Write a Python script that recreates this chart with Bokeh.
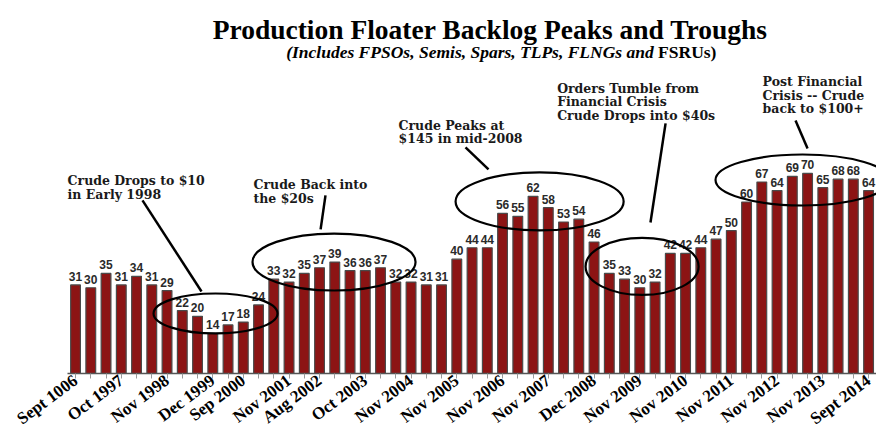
import math
from bokeh.plotting import figure
from bokeh.models import Label, FixedTicker, Range1d, ColumnDataSource
from bokeh.core.properties import value
from bokeh.embed import file_html
from bokeh.resources import INLINE

# Production floater backlog (units), one value per survey date
backlog = [31, 30, 35, 31, 34, 31, 29, 22, 20, 14, 17, 18, 24,
           33, 32, 35, 37, 39, 36, 36, 37, 32, 32, 31, 31,
           40, 44, 44, 56, 55, 62, 58, 53, 54, 46,
           35, 33, 30, 32, 42, 42, 44, 47, 50,
           60, 67, 64, 69, 70, 65, 68, 68, 64]

# Axis tick labels (blank where a survey date is not labelled)
date_labels = ["Sept 1006", "", "", "Oct 1997", "", "", "Nov 1998", "", "",
               "Dec 1999", "", "Sep 2000", "", "", "Nov 2001", "", "Aug 2002",
               "", "", "Oct 2003", "", "", "Nov 2004", "", "", "Nov 2005", "", "",
               "Nov 2006", "", "", "Nov 2007", "", "", "Dec 2008", "", "",
               "Nov 2009", "", "", "Nov 2010", "", "", "Nov 2011", "", "",
               "Nov 2012", "", "", "Nov 2013", "", "", "Sept 2014"]

idx = list(range(len(backlog)))
src = ColumnDataSource(dict(x=idx, backlog=backlog,
                            lbl=[str(v) for v in backlog]))

p = figure(width=876, height=439, output_backend="svg", toolbar_location=None,
           x_range=Range1d(-4.92, 52.52), y_range=Range1d(0, 130.5),
           y_axis_location=None, min_border=0, min_border_bottom=66,
           background_fill_color="white", border_fill_color="white")
p.outline_line_color = None
p.xgrid.grid_line_color = None
p.ygrid.grid_line_color = None

p.vbar(x="x", top="backlog", width=0.64, source=src,
       fill_color="#8c1414", line_color="#4a4a4a", line_width=1.2)

p.text(x="x", y="backlog", text="lbl", source=src, text_align="center",
       text_baseline="bottom", y_offset=-4, text_font=value("Liberation Sans"),
       text_font_style="bold", text_font_size="12px", text_color="#2a2a2a")

ax = p.xaxis[0]
ax.ticker = FixedTicker(ticks=idx)
ax.major_label_overrides = {i: t for i, t in zip(idx, date_labels)}
ax.bounds = (-0.5, 52.5)
ax.major_label_orientation = 0.64
ax.major_label_text_font = "Liberation Serif"
ax.major_label_text_font_style = "bold"
ax.major_label_text_font_size = "17px"
ax.major_label_text_color = "black"
ax.major_label_standoff = 0
ax.axis_line_color = "#555555"
ax.axis_line_width = 1.5
ax.major_tick_line_color = "#999999"
ax.major_tick_out = 5
ax.major_tick_in = 0
ax.minor_tick_line_color = None

# Circled groups of peaks and troughs
rings = dict(x=[9.18, 16.95, 30.43, 37.15, 47.67],
             y=[21.0, 39.0, 60.2, 37.45, 67.7],
             w=[8.13, 10.69, 11.02, 7.41, 11.41],
             h=[14.0, 19.95, 20.3, 19.95, 17.85])
p.ellipse(x="x", y="y", width="w", height="h", source=ColumnDataSource(rings),
          fill_color=None, line_color="black", line_width=2.2)

# Pointer lines from the callouts
p.segment(x0=[4.39, 16.39, 25.57, 38.69, 47.21],
          y0=[60.55, 62.3, 79.1, 87.5, 88.55],
          x1=[8.26, 16.07, 27.08, 37.70, 48.0],
          y1=[28.7, 50.4, 71.4, 52.85, 78.75],
          line_color="black", line_width=2.5)

callouts = [
    (-0.52, [67.4, 62.7], ["Crude Drops to $10", "in Early 1998"]),
    (11.67, [66.2, 61.3], ["Crude Back into", "the $20s"]),
    (21.18, [86.8, 82.1], ["Crude Peaks at", "$145 in mid-2008"]),
    (31.58, [99.8, 95.1, 90.4], ["Orders Tumble from", "Financial Crisis",
                                 "Crude Drops into $40s"]),
    (45.05, [102.0, 97.3, 92.6], ["Post Financial", "Crisis -- Crude",
                                  "back to $100+"]),
]
for cx, ys, lines in callouts:
    for cy, line in zip(ys, lines):
        p.add_layout(Label(x=cx, y=cy, text=line, text_font="DejaVu Serif",
                           text_font_style="bold", text_font_size="12.5px",
                           text_color="#1a1a1a", text_align="left",
                           text_baseline="alphabetic"))

p.add_layout(Label(x=27.2, y=120.5,
                   text="Production Floater Backlog Peaks and Troughs",
                   text_font="Liberation Serif", text_font_style="bold",
                   text_font_size="27.5px", text_color="black",
                   text_align="center", text_baseline="alphabetic"))
p.add_layout(Label(x=38.2, y=112.4,
                   text="(Includes FPSOs, Semis, Spars, TLPs, FLNGs and ",
                   text_font="Liberation Serif", text_font_style="bold italic",
                   text_font_size="17.5px", text_color="black",
                   text_align="right", text_baseline="alphabetic"))
p.add_layout(Label(x=38.2, y=112.4, text="FSRUs)",
                   text_font="Liberation Serif", text_font_style="bold",
                   text_font_size="17.5px", text_color="black",
                   text_align="left", text_baseline="alphabetic"))

open("out.html", "w").write(file_html(p, INLINE))
